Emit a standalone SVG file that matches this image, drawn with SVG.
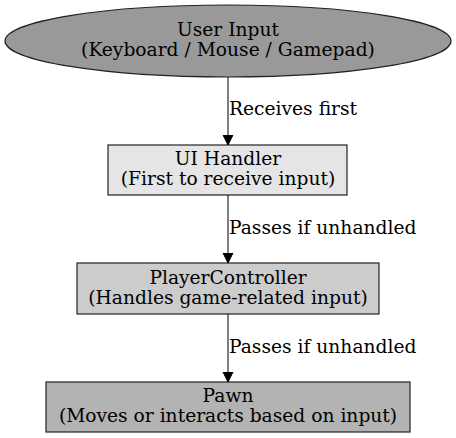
<svg xmlns="http://www.w3.org/2000/svg" width="456" height="438" viewBox="0 0 456 438">
<defs>
<marker id="arr" markerWidth="10" markerHeight="14" refX="10" refY="7" orient="auto" markerUnits="userSpaceOnUse">
<path d="M0,2 L10,7 L0,12 Z" fill="#000" stroke="#000"/>
</marker>
</defs>
<style>
text{font-family:"DejaVu Serif","Liberation Serif",serif;font-size:18.67px;fill:#000}
.c{text-anchor:middle}
.n{stroke:#222;stroke-width:1.2}
.e{stroke:#000;stroke-width:1;fill:none;marker-end:url(#arr)}
</style>
<rect width="456" height="438" fill="#fff"/>
<g id="user_input">
<ellipse class="n" cx="228" cy="41" rx="223" ry="36" fill="#999999"/>
<text class="c" x="228" y="36">User Input</text>
<text class="c" x="228" y="56">(Keyboard / Mouse / Gamepad)</text>
</g>
<g id="ui_handler">
<rect class="n" x="108" y="145" width="239" height="50" fill="#e5e5e5"/>
<text class="c" x="228" y="165">UI Handler</text>
<text class="c" x="228" y="185">(First to receive input)</text>
</g>
<g id="player_controller">
<rect class="n" x="77" y="263" width="302" height="51" fill="#cccccc"/>
<text class="c" x="228" y="284">PlayerController</text>
<text class="c" x="228" y="304">(Handles game-related input)</text>
</g>
<g id="pawn">
<rect class="n" x="46" y="382" width="364" height="50" fill="#b3b3b3"/>
<text class="c" x="228" y="402">Pawn</text>
<text class="c" x="228" y="422">(Moves or interacts based on input)</text>
</g>
<g id="connectors">
<path class="e" d="M228,77 V145"/>
<text x="229" y="115">Receives first</text>
<path class="e" d="M228,195 V263"/>
<text x="229" y="234">Passes if unhandled</text>
<path class="e" d="M228,314 V382"/>
<text x="229" y="353">Passes if unhandled</text>
</g>
</svg>
